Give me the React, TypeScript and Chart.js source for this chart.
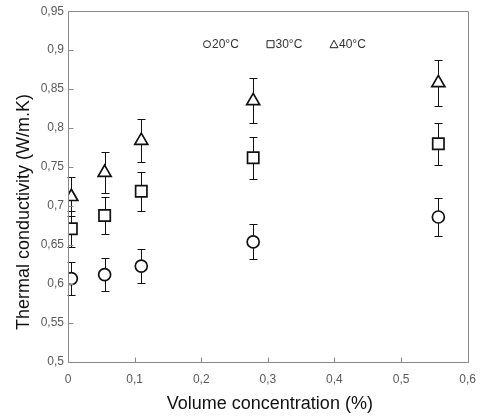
import React, { useEffect, useRef } from 'react';
import { Chart, registerables } from 'chart.js';

Chart.register(...registerables);

// ---- data ----
const volumeConcentration = [0.005, 0.055, 0.11, 0.278, 0.556];
const k20 = [0.607, 0.612, 0.623, 0.654, 0.686];
const k30 = [0.671, 0.688, 0.719, 0.762, 0.78];
const k40 = [0.712, 0.743, 0.784, 0.835, 0.858];
const err20 = [0.021, 0.0215, 0.022, 0.0225, 0.024];
const err30 = [0.023, 0.024, 0.025, 0.027, 0.027];
const err40 = [0.025, 0.026, 0.028, 0.029, 0.03];
const seriesLabels = ['20°C', '30°C', '40°C'];
const pointStyles = ['circle', 'rect', 'triangle'];
const xTitle = 'Volume concentration (%)';
const yTitle = 'Thermal conductivity (W/m.K)';
const xMin = 0;
const xMax = 0.6;
const xStep = 0.1;
const yMin = 0.5;
const yMax = 0.95;
const yStep = 0.05;

const FONT = "'Liberation Sans', Arial, sans-serif";

const fmt = (v: number) =>
  parseFloat(Number(v).toFixed(2)).toString().replace('.', ',');

const errorsBySeries = [err20, err30, err40];

const errorBarPlugin = {
  id: 'errorBars',
  beforeDatasetsDraw(chart: any) {
    const ctx = chart.ctx;
    const yScale = chart.scales.y;
    ctx.save();
    ctx.strokeStyle = '#111';
    ctx.lineWidth = 1;
    chart.data.datasets.forEach((ds: any, i: number) => {
      const meta = chart.getDatasetMeta(i);
      const errs = errorsBySeries[i];
      meta.data.forEach((pt: any, j: number) => {
        const v = ds.data[j].y;
        const e = errs[j];
        const x = Math.round(pt.x) + 0.5;
        const yt = Math.round(yScale.getPixelForValue(v + e)) + 0.5;
        const yb = Math.round(yScale.getPixelForValue(v - e)) + 0.5;
        ctx.beginPath();
        ctx.moveTo(x, yt);
        ctx.lineTo(x, yb);
        ctx.moveTo(x - 4, yt);
        ctx.lineTo(x + 4, yt);
        ctx.moveTo(x - 4, yb);
        ctx.lineTo(x + 4, yb);
        ctx.stroke();
      });
    });
    ctx.restore();
  },
  afterDraw(chart: any) {
    const ctx = chart.ctx;
    const { left, right, top, bottom } = chart.chartArea;
    const xs = chart.scales.x;
    const ys = chart.scales.y;
    ctx.save();
    // frame
    ctx.strokeStyle = '#8a8a8a';
    ctx.lineWidth = 1;
    const L = Math.round(left) + 0.5;
    const R = Math.round(right) + 0.5;
    const T = Math.round(top) + 0.5;
    const B = Math.round(bottom) + 0.5;
    ctx.beginPath();
    ctx.rect(L, T, R - L, B - T);
    ctx.stroke();
    // inner ticks
    ctx.beginPath();
    for (let v = xMin; v <= xMax + 1e-9; v += xStep) {
      const x = Math.round(xs.getPixelForValue(v)) + 0.5;
      ctx.moveTo(x, B);
      ctx.lineTo(x, B - 5);
    }
    for (let v = yMin; v <= yMax + 1e-9; v += yStep) {
      const y = Math.round(ys.getPixelForValue(v)) + 0.5;
      ctx.moveTo(L, y);
      ctx.lineTo(L + 5, y);
    }
    ctx.stroke();

    // axis titles
    ctx.fillStyle = '#111';
    ctx.font = `18px ${FONT}`;
    ctx.textAlign = 'center';
    ctx.textBaseline = 'middle';
    ctx.fillText(xTitle, (left + right) / 2 + 2, 404);
    ctx.save();
    ctx.translate(24, 212);
    ctx.rotate(-Math.PI / 2);
    ctx.fillText(yTitle, 0, 0);
    ctx.restore();

    // legend
    const ly = top + 33;
    const startX = left + 139;
    const gap = 63.5;
    ctx.font = `12px ${FONT}`;
    ctx.textAlign = 'left';
    ctx.textBaseline = 'middle';
    seriesLabels.forEach((lab, i) => {
      const cx = startX + i * gap;
      ctx.strokeStyle = '#222';
      ctx.lineWidth = 1;
      ctx.beginPath();
      if (pointStyles[i] === 'circle') {
        ctx.arc(cx, ly, 3.5, 0, Math.PI * 2);
      } else if (pointStyles[i] === 'rect') {
        ctx.rect(cx - 3.5, ly - 3.5, 7, 7);
      } else {
        ctx.moveTo(cx, ly - 4);
        ctx.lineTo(cx + 4, ly + 3.5);
        ctx.lineTo(cx - 4, ly + 3.5);
        ctx.closePath();
      }
      ctx.stroke();
      ctx.fillStyle = '#333';
      ctx.fillText(lab, cx + 5, ly + 0.5);
    });
    ctx.restore();
  },
};

export default function App() {
  const ref = useRef<HTMLCanvasElement | null>(null);
  useEffect(() => {
    if (!ref.current) return;
    const mk = (vals: number[]) =>
      volumeConcentration.map((x, i) => ({ x, y: vals[i] }));
    const radii = [6, 8, 7.5];
    const chart = new Chart(ref.current, {
      type: 'scatter',
      data: {
        datasets: [k20, k30, k40].map((vals, i) => ({
          label: seriesLabels[i],
          data: mk(vals),
          pointStyle: pointStyles[i] as any,
          pointRadius: radii[i],
          pointBorderWidth: 1.7,
          borderColor: '#111',
          backgroundColor: '#fff',
          pointBackgroundColor: '#fff',
          pointBorderColor: '#111',
          showLine: false,
        })),
      },
      options: {
        responsive: false,
        animation: false,
        layout: { padding: { top: 10, right: 13, left: 0, bottom: 0 } },
        plugins: {
          legend: { display: false },
          tooltip: { enabled: false },
        },
        scales: {
          x: {
            type: 'linear',
            min: xMin,
            max: xMax,
            border: { display: false },
            grid: { display: false, drawTicks: false },
            ticks: {
              stepSize: xStep,
              padding: 10,
              color: '#595959',
              font: { family: FONT, size: 12 },
              callback: (v: any) => fmt(v),
            },
            afterFit: (s: any) => {
              s.height = 58;
            },
          },
          y: {
            type: 'linear',
            min: yMin,
            max: yMax,
            border: { display: false },
            grid: { display: false, drawTicks: false },
            ticks: {
              stepSize: yStep,
              padding: 4,
              color: '#595959',
              font: { family: FONT, size: 12 },
              callback: (v: any) => fmt(v),
            },
            afterFit: (s: any) => {
              s.width = 68;
            },
          },
        },
      },
      plugins: [errorBarPlugin],
    });
    return () => chart.destroy();
  }, []);
  return (
    <div style={{ position: 'fixed', left: 0, top: 0, width: 486, height: 420, background: '#fff' }}>
      <canvas ref={ref} width={486} height={420} />
    </div>
  );
}
